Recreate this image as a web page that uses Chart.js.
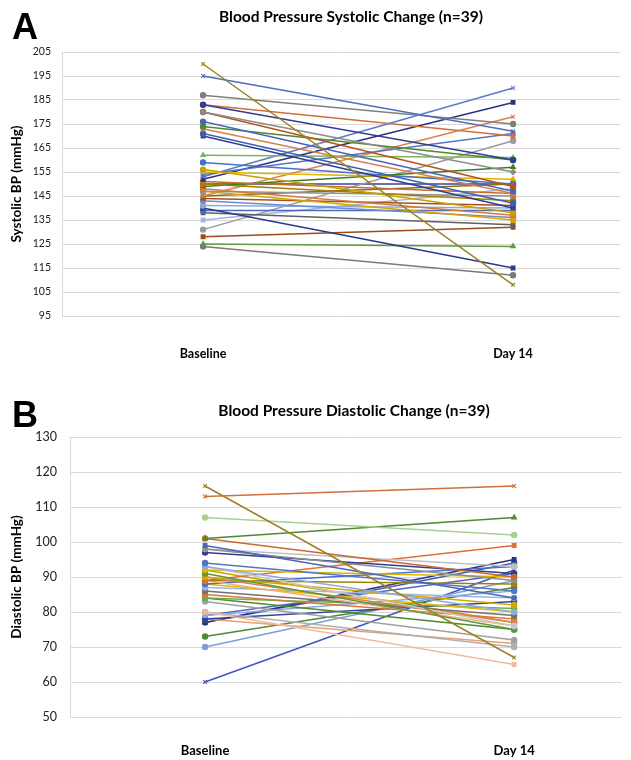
<!DOCTYPE html>
<html><head><meta charset="utf-8">
<script src="https://cdn.jsdelivr.net/npm/chart.js@4"></script>
<style>
html,body{margin:0;padding:0;background:#fff;width:631px;height:760px;overflow:hidden;}
.panel{position:absolute;left:0;width:631px;}
.letter{position:absolute;font-family:"Liberation Sans",Arial,sans-serif;font-weight:bold;font-size:36px;line-height:36px;color:#000;}
.ttl{position:absolute;width:400px;text-align:center;font-family:Lato,"Open Sans",sans-serif;font-weight:bold;font-size:15.5px;color:#000;white-space:nowrap;}
</style></head>
<body>
<div class="panel" style="top:0;height:385px;"><canvas id="cA" width="631" height="385"></canvas></div>
<div class="panel" style="top:395px;height:365px;"><canvas id="cB" width="631" height="365"></canvas></div>
<div class="letter" style="left:12px;top:9px;">A</div>
<div class="letter" style="left:12px;top:397px;">B</div>
<div class="ttl" style="left:151px;top:7px;">Blood Pressure Systolic Change (n=39)</div>
<div class="ttl" style="left:154px;top:401px;">Blood Pressure Diastolic Change (n=39)</div>
<script>
const categories = ['Baseline', 'Day 14'];
const sysTicks = [95,105,115,125,135,145,155,165,175,185,195,205];
const diaTicks = [50,60,70,80,90,100,110,120,130];

const sysBaseline = [200,195,187,183,183,180,180,176,174,173,171,170,162,159,156,155,154,153,152,151,150,149,148,147,147,145,145,144,143,141,140,139,138,135,131,128,125,124,150];
const sysDay14    = [108,172,175,160,170,155,149,147,160,146,142,140,161,150,138,152,171,190,184,146,143,157,137,145,135,178,150,141,136,140,115,139,133,148,168,132,124,112,150];

const diaBaseline = [116,113,107,101,101,99,98,98,97,94,93,93,92,91,90,90,89,89,89,88,88,87,86,85,84,84,83,80,80,79,79,78,78,77,77,73,70,60,92];
const diaDay14    = [67,116,102,107,90,84,89,93,91,86,80,76,90,75,82,77,99,88,76,93,80,84,79,78,81,75,72,65,70,86,91,83,71,95,94,87,89,92,77];

const sysColors = ['#9C8220','#4E6EC0','#7F7F7F','#2F3E94','#D0703A','#8C8C8C','#B5551E','#4A66B8','#4E8A30','#D98050','#3F5FB0','#2F3E94','#7DB55A','#4A70C8','#C9A100','#E0B400','#5575C5','#5B7CC8','#28337F','#C96A2E','#A08000','#3F7A2A','#D7783E','#909090','#D4A800','#E08050','#8A7010','#A8501C','#6E8BD0','#8FA8DC','#2A3A8C','#4A6CC0','#606060','#A0B6E0','#9A9A9A','#9E4A1A','#5C9A3A','#7A7A7A','#34449A'];
const sysMarkers = ['crossRot','crossRot','circle','circle','rect','rectRot','circle','circle','circle','rect','circle','rect','triangle','circle','circle','triangle','rect','crossRot','rect','circle','circle','triangle','circle','circle','circle','crossRot','rect','rect','circle','circle','rect','circle','rect','rect','circle','rect','triangle','circle','circle'];
const diaColors = ['#9C8220','#D0703A','#A9D08E','#4E8A30','#C96A2E','#4A66B8','#8C8C8C','#BFBFBF','#2F3E94','#5575C5','#8FAADC','#C8C8C8','#E0B400','#5C9A3A','#D4A800','#D98050','#E07030','#A08000','#F0B090','#4A70C8','#E6B800','#9DB4E0','#707070','#D7783E','#70AD47','#4E8A30','#A0A0A0','#F4B8A0','#B0B0B0','#8FAADC','#4A6CC0','#34449A','#E8A070','#28337F','#3F5FB0','#4E8A30','#7E9CD8','#3F55C0','#CCA000'];
const diaMarkers = ['crossRot','crossRot','circle','triangle','circle','rect','rect','circle','circle','circle','circle','circle','circle','circle','circle','circle','rect','circle','circle','circle','circle','circle','circle','circle','circle','circle','circle','rect','circle','rect','rect','circle','circle','rect','circle','circle','circle','crossRot','circle'];

const FONT = 'Lato, "Open Sans", sans-serif';

function makeSets(b, d, colors, markers) {
  return b.map((v, i) => ({
    label: 'P' + (i + 1),
    data: [{ x: 0, y: v }, { x: 1, y: d[i] }],
    borderColor: colors[i],
    backgroundColor: colors[i],
    pointBorderColor: colors[i],
    pointBackgroundColor: colors[i],
    pointStyle: markers[i],
    pointRadius: 2.6,
    pointBorderWidth: 1.2,
    borderWidth: 1.5,
    tension: 0
  }));
}

function makeChart(id, cfg) {
  new Chart(document.getElementById(id), {
    type: 'line',
    data: { datasets: makeSets(cfg.b, cfg.d, cfg.colors, cfg.markers) },
    options: {
      responsive: false,
      animation: false,
      events: [],
      layout: { padding: { left: cfg.padLeft, right: cfg.padRight, top: cfg.padTop, bottom: 0 } },
      plugins: { legend: { display: false }, tooltip: { enabled: false }, title: { display: false } },
      scales: {
        x: {
          type: 'linear',
          min: cfg.xMin, max: cfg.xMax,
          afterBuildTicks: s => { s.ticks = categories.map((c, i) => ({ value: i })); },
          grid: { display: false, drawTicks: false },
          border: { display: false },
          ticks: { autoSkip: false, maxRotation: 0, color: '#000', font: { family: FONT, size: cfg.xFont, weight: 'bold' }, padding: cfg.xPad, callback: (v, i) => categories[i] },
          afterFit: s => { s.height = cfg.xHeight; }
        },
        y: {
          min: cfg.min, max: cfg.max,
          afterBuildTicks: s => { s.ticks = cfg.ticks.map(v => ({ value: v })); },
          grid: { color: '#D9D9D9', lineWidth: 1, drawTicks: false },
          border: { display: true, color: '#D9D9D9' },
          ticks: { color: '#222', font: { family: FONT, size: cfg.yFont }, padding: cfg.yPad },
          title: { display: true, text: cfg.yTitle, color: '#000', font: { family: FONT, size: 13.5, weight: 'bold' }, padding: { top: 0, bottom: 0 } },
          afterFit: s => { s.width = cfg.yWidth; }
        }
      }
    }
  });
}

makeChart('cA', {
  b: sysBaseline, d: sysDay14, colors: sysColors, markers: sysMarkers,
  yTitle: 'Systolic BP (mmHg)',
  min: 95, max: 205, ticks: sysTicks,
  xMin: -0.455, xMax: 1.345,
  padLeft: 9, padRight: 11, padTop: 52,
  xHeight: 69, xPad: 30, xFont: 12.5,
  yWidth: 53, yFont: 10.5, yPad: 11
});

makeChart('cB', {
  b: diaBaseline, d: diaDay14, colors: diaColors, markers: diaMarkers,
  yTitle: 'Diastolic BP (mmHg)',
  min: 50, max: 130, ticks: diaTicks,
  xMin: -0.437, xMax: 1.349,
  padLeft: 9, padRight: 9, padTop: 42,
  xHeight: 43, xPad: 26, xFont: 13,
  yWidth: 61, yFont: 12.5, yPad: 13
});
</script>
</body></html>
